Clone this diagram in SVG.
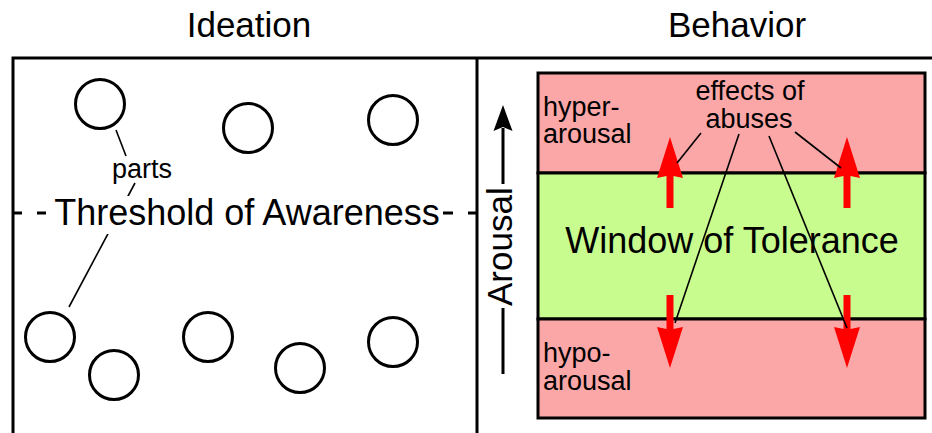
<svg xmlns="http://www.w3.org/2000/svg" width="932" height="433" viewBox="0 0 932 433">
<defs>
<style>
text{font-family:"Liberation Sans",Arial,sans-serif;fill:#000}
.big{font-size:35px}
.huge{font-size:36px}
.mid{font-size:27px}
.part{fill:none;stroke:#000;stroke-width:3}
.frame{fill:none;stroke:#000;stroke-width:3}
.lead{stroke:#000;stroke-width:1.6;fill:none}
.zone{stroke:#000;stroke-width:3}
.hot{fill:#fba7a7}
.ok{fill:#c8fc8e}
.red{fill:#ff0000}
</style>
</defs>
<rect width="932" height="433" fill="#fff"/>

<g id="titles">
<text class="big" x="249" y="37" text-anchor="middle">Ideation</text>
<text class="big" x="737" y="37" text-anchor="middle">Behavior</text>
</g>

<g id="frame">
<path class="frame" d="M13 433V58H932M477 58V433"/>
</g>

<g id="connectors">
<line class="lead" x1="116" y1="130" x2="126" y2="156"/>
<line class="lead" x1="135" y1="183" x2="69" y2="307"/>
</g>

<g id="threshold">
<path d="M13 213H22M37 213H46M443 213H453M468 213H477" stroke="#000" stroke-width="3"/>
<rect x="55" y="196" width="384" height="38" fill="#fff"/>
<text class="huge" x="247" y="225" text-anchor="middle">Threshold of Awareness</text>
</g>

<g id="parts-label"><text class="mid" x="142" y="178" text-anchor="middle">parts</text></g>

<g id="part1"><circle class="part" cx="100" cy="104" r="24.5"/></g>
<g id="part2"><circle class="part" cx="248" cy="128" r="24.5"/></g>
<g id="part3"><circle class="part" cx="393" cy="120" r="24.5"/></g>
<g id="part4"><circle class="part" cx="50" cy="337" r="24.5"/></g>
<g id="part5"><circle class="part" cx="114" cy="375" r="24.5"/></g>
<g id="part6"><circle class="part" cx="208" cy="337" r="24.5"/></g>
<g id="part7"><circle class="part" cx="300" cy="368" r="24.5"/></g>
<g id="part8"><circle class="part" cx="393" cy="342" r="24.5"/></g>

<g id="arousal-axis">
<line x1="503" y1="128" x2="503" y2="374" stroke="#000" stroke-width="3"/>
<polygon points="503,105 512.5,131 503,127 493.5,131" fill="#000"/>
<rect x="486" y="184" width="34" height="124" fill="#fff"/>
<text class="big" transform="translate(512,306) rotate(-90)">Arousal</text>
</g>

<g id="hyperarousal">
<rect class="zone hot" x="538" y="73" width="387" height="100"/>
<text class="mid" x="543" y="116">hyper-</text>
<text class="mid" x="543" y="143">arousal</text>
</g>
<g id="window">
<rect class="zone ok" x="538" y="173" width="387" height="146"/>
<text class="huge" x="732" y="253" text-anchor="middle">Window of Tolerance</text>
</g>
<g id="hypoarousal">
<rect class="zone hot" x="538" y="319" width="387" height="99"/>
<text class="mid" x="543" y="362">hypo-</text>
<text class="mid" x="543" y="390">arousal</text>
</g>

<g id="red-arrows">
<polygon class="red" points="670,137 683,178 673.5,176 673.5,208 666.5,208 666.5,176 657,178"/>
<polygon class="red" points="847,137 860,178 850.5,176 850.5,208 843.5,208 843.5,176 834,178"/>
<polygon class="red" points="670,368 683,327 673.5,329 673.5,295 666.5,295 666.5,329 657,327"/>
<polygon class="red" points="847,368 860,327 850.5,329 850.5,295 843.5,295 843.5,329 834,327"/>
</g>

<g id="effects-label">
<text class="mid" x="750" y="100" text-anchor="middle">effects of</text>
<text class="mid" x="749" y="128" text-anchor="middle">abuses</text>
</g>

<g id="effect-leaders">
<line class="lead" x1="701" y1="133" x2="677" y2="163"/>
<line class="lead" x1="739" y1="134" x2="675" y2="323"/>
<line class="lead" x1="769" y1="136" x2="847" y2="328"/>
<line class="lead" x1="795" y1="132" x2="841" y2="168"/>
</g>
</svg>
